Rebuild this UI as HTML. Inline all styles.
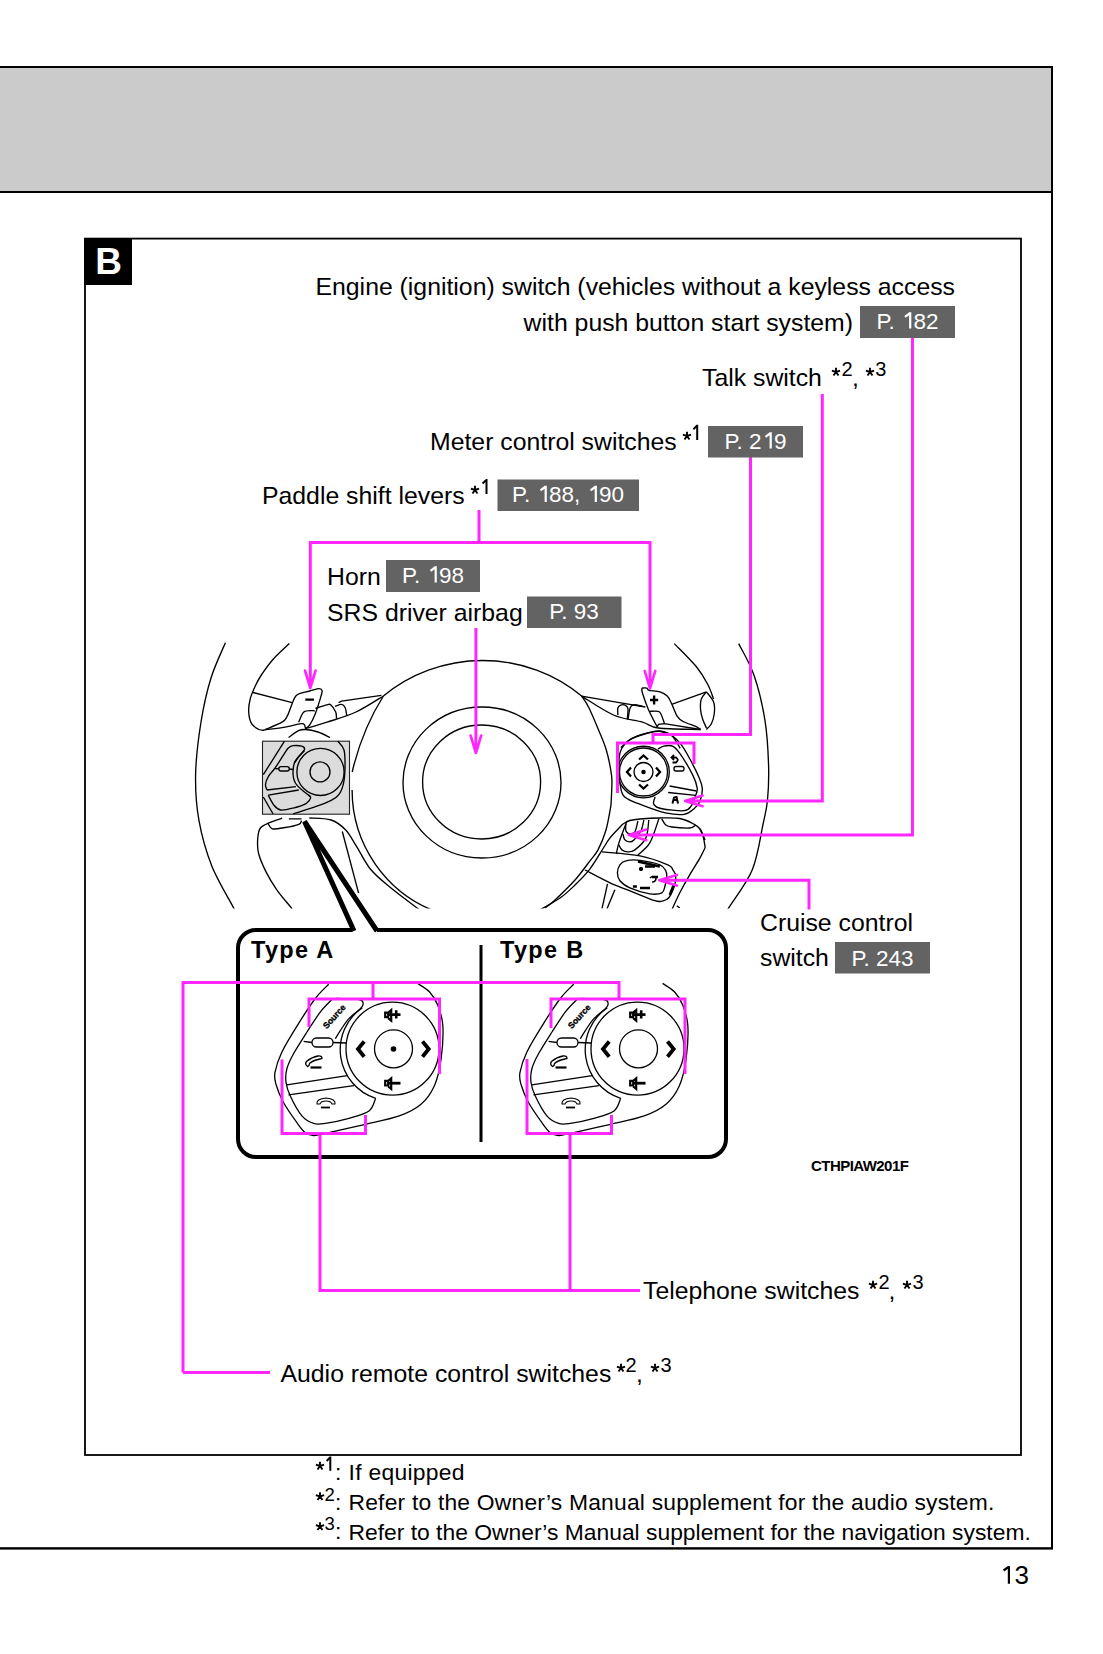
<!DOCTYPE html>
<html><head><meta charset="utf-8">
<style>
html,body{margin:0;padding:0;background:#fff;width:1103px;height:1654px;overflow:hidden}
svg{display:block}
text{font-family:"Liberation Sans",sans-serif}
.t{font-size:24.8px;fill:#000}
.bt{font-size:22.5px;fill:#fff}
.h1{fill-opacity:0}
.fn{font-size:22.85px;fill:#000}
.sp{font-size:20px}
.sf{font-size:18.5px}
</style></head>
<body>
<svg width="1103" height="1654" viewBox="0 0 1103 1654">
<defs>
<path id="ast" d="M0,0L0,-4.3M0,0L4.1,-1.3M0,0L2.5,3.5M0,0L-2.5,3.5M0,0L-4.1,-1.3" stroke="#000" stroke-width="1.9" fill="none"/>
<clipPath id="wclip"><rect x="0" y="600" width="1103" height="308.5"/></clipPath>
</defs>
<!-- header band -->
<rect x="0" y="68" width="1051" height="123" fill="#cbcbcb"/>
<rect x="0" y="66" width="1053" height="2" fill="#000"/>
<rect x="0" y="191" width="1053" height="2" fill="#000"/>
<rect x="1051" y="66" width="2" height="1483" fill="#000"/>
<rect x="0" y="1547.2" width="1053" height="2.4" fill="#000"/>
<!-- inner box -->
<rect x="85" y="238.6" width="936" height="1216.4" fill="none" stroke="#000" stroke-width="1.8"/>
<rect x="84" y="238" width="48" height="47" fill="#000"/>
<text x="108.5" y="274" font-size="37" font-weight="bold" fill="#fff" text-anchor="middle">B</text>


<!--WHEEL-->
<g id="wheel" clip-path="url(#wclip)" stroke="#000" stroke-width="1.35" fill="none">
<path d="M225.4,642.7C223.0,648.6 215.1,664.8 211.0,678.0C206.9,691.2 203.6,705.8 201.0,722.0C198.4,738.2 195.9,758.5 195.6,775.0C195.3,791.5 196.3,805.5 199.0,820.7C201.7,835.9 206.1,851.5 211.8,866.0C217.6,880.5 229.5,899.9 233.5,907.7C237.5,915.5 235.6,912.1 236.0,913.0"/>
<path d="M738.7,643.6C741.2,648.9 749.6,662.4 754.0,675.3C758.4,688.1 762.6,705.6 765.0,720.7C767.4,735.8 768.2,752.8 768.6,766.0C769.0,779.2 768.4,790.3 767.5,800.0C766.6,809.7 765.5,812.8 763.0,824.4C760.5,836.0 758.0,855.8 752.3,869.7C746.6,883.6 733.1,900.6 728.7,907.8C724.3,915.0 726.5,912.1 726.0,913.0"/>
<path d="M289.4,643.6C286.7,646.2 278.0,653.9 273.4,659.0C268.8,664.1 264.9,669.8 262.0,674.0C259.1,678.2 258.0,680.3 256.0,684.5C254.0,688.7 251.4,694.4 250.2,699.0C249.0,703.6 248.5,707.9 248.7,712.0C248.9,716.1 249.9,720.8 251.6,723.7C253.3,726.6 256.7,728.4 258.9,729.5C261.1,730.6 263.7,730.1 264.7,730.2"/>
<path d="M253.0,692.5L292.2,702.6"/>
<path d="M264.7,729.8C267.6,728.5 278.3,724.4 282.0,722.2C285.7,720.0 285.4,719.5 287.1,716.4C288.8,713.3 290.8,706.8 292.2,703.4C293.6,700.0 294.3,697.7 295.8,696.0C297.3,694.3 298.7,694.0 301.0,693.2C303.3,692.4 306.7,691.8 309.6,691.0C312.5,690.2 316.2,688.7 318.3,688.6C320.4,688.5 321.5,689.2 322.0,690.3C322.5,691.4 322.3,691.5 321.2,695.4C320.1,699.3 317.3,708.5 315.4,713.5C313.5,718.5 311.3,722.6 309.6,725.1C307.9,727.6 306.0,728.1 305.3,728.7"/>
<path d="M264.7,729.8C267.8,729.4 277.4,728.3 283.5,727.3C289.6,726.3 297.5,724.1 301.0,723.7C304.5,723.3 303.8,724.4 304.5,725.1C305.2,725.8 305.2,727.5 305.3,728.0"/>
<path d="M298.7,722.2C299.6,720.5 301.5,713.9 303.8,712.0C306.1,710.1 310.7,710.8 312.5,710.6C314.3,710.4 314.3,710.9 314.7,711.0"/>
<path d="M305.3,699.7L314.0,699.7" stroke-width="2.2"/>
<path d="M305.3,728.7C308.9,727.6 318.6,725.0 327.0,722.2C335.4,719.4 346.6,716.4 356.0,712.0C365.4,707.6 378.8,698.7 383.4,696.0"/>
<path d="M338.6,702.6L341.5,701.2L381.4,695.4"/>
<path d="M315.4,708.4C317.3,707.8 324.4,705.4 327.0,704.8C329.6,704.2 329.2,703.6 330.7,704.8C332.1,706.0 334.7,709.7 335.7,712.0C336.7,714.3 336.4,717.5 336.5,718.6"/>
<path d="M335.0,706.3C336.1,706.0 339.8,704.2 341.5,704.4C343.2,704.6 344.3,705.9 345.2,707.7C346.1,709.5 346.4,713.8 346.6,715.0"/>
<path d="M383.4,696Q362,730 352.2,772"/><path d="M352.1,790A130,130 0 0 0 437,912"/>
<path d="M288.6,737.5C290.2,736.4 295.2,732.2 298.0,730.9C300.8,729.6 302.0,729.3 305.3,729.5C308.6,729.7 313.9,730.7 318.0,732.0C322.1,733.3 328.0,736.6 330.0,737.5"/>
<path d="M282.2,818.2C280.1,819.0 273.1,821.1 269.5,822.7C265.9,824.3 262.4,825.3 260.4,828.0C258.4,830.7 258.0,834.8 257.7,839.0C257.4,843.2 257.2,848.1 258.6,853.5C260.0,858.9 262.9,865.6 265.9,871.6C268.9,877.6 272.6,883.8 276.8,889.8C281.0,895.8 288.6,904.4 291.3,907.9C294.0,911.4 292.7,910.5 293.0,911.0"/>
<path d="M268.0,823.4C268.8,824.3 269.7,828.1 272.5,828.8C275.3,829.5 280.6,828.2 285.0,827.5C289.4,826.8 296.1,825.4 298.8,824.3C301.6,823.2 301.1,821.3 301.5,820.7"/>
<path d="M288.8,818.8L301.5,818.8"/>
<path d="M309.4,818.0C313.0,818.3 325.1,818.0 331.2,820.0C337.2,822.0 341.5,825.6 345.7,830.0C349.9,834.4 352.3,839.7 356.5,846.3C360.7,852.9 365.2,862.8 371.0,869.8C376.8,876.8 383.1,881.5 391.0,888.0C398.9,894.5 413.2,905.0 418.2,908.8C423.2,912.6 420.5,910.6 421.0,911.0"/>
<path d="M342.3,831.5L358.6,893.2"/>
<ellipse cx="482" cy="782.5" rx="79" ry="75.5"/>
<ellipse cx="481.6" cy="782" rx="59" ry="57"/>
<path d="M383.4,696A156,156 0 0 1 581.6,696"/>
<path d="M581.6,696.1C582.8,698.0 586.0,701.9 588.9,707.7C591.8,713.5 596.1,724.0 599.0,731.0C601.9,738.0 604.2,742.7 606.3,750.0C608.4,757.3 610.6,768.3 611.5,775.0C612.4,781.7 611.8,785.0 611.7,790.0C611.6,795.0 611.1,802.5 611.0,805.0"/>
<path d="M581.6,696.1C586.9,699.2 603.4,710.6 613.5,715.0C623.6,719.4 635.0,720.0 642.5,722.2C650.0,724.4 648.8,726.8 658.5,728.0C668.2,729.2 693.5,729.2 700.5,729.5"/>
<path d="M581.6,696.1L623.7,703.4L645.4,707.0"/>
<path d="M641.8,688.1C642.6,688.1 645.7,687.7 646.9,688.1C648.1,688.5 646.8,689.7 649.0,690.3C651.2,690.9 657.0,690.8 660.0,691.8C663.0,692.8 665.3,694.2 667.2,696.1C669.1,698.0 669.8,700.0 671.5,703.4C673.2,706.8 675.4,713.4 677.3,716.4C679.2,719.4 680.0,719.8 683.1,721.5C686.2,723.2 693.3,725.3 696.2,726.6C699.1,727.9 699.8,729.0 700.5,729.5"/>
<path d="M641.8,688.1C641.9,689.0 641.4,689.7 642.5,693.2C643.6,696.7 645.9,703.6 648.3,709.2C650.7,714.8 655.5,723.7 657.0,726.6"/>
<path d="M649.8,711.3C651.1,711.3 656.0,710.9 657.8,711.3C659.6,711.7 659.6,711.5 660.7,713.5C661.8,715.5 663.7,721.4 664.3,723.0"/>
<path d="M657.0,727.3L658.5,724.4L664.3,723.7L700.5,729.5"/>
<path d="M672.3,704.1L706.4,691.8"/>
<path d="M706.4,691.8C707.6,693.5 712.3,698.4 713.6,702.0C714.9,705.6 714.7,709.9 714.3,713.5C713.9,717.1 712.7,721.0 711.4,723.7C710.1,726.4 707.2,728.5 706.4,729.5"/>
<path d="M706.4,691.8C705.5,693.0 702.3,696.1 701.3,699.0C700.3,701.9 700.3,705.8 700.5,709.2C700.7,712.6 701.7,716.2 702.7,719.3C703.7,722.4 705.8,726.5 706.4,728.0"/>
<path d="M674.3,643.6C677.9,647.4 690.4,659.5 696.0,666.3C701.6,673.1 704.9,679.0 707.8,684.5C710.7,690.0 712.6,696.6 713.6,699.0"/>
<path d="M617.9,715.0C617.9,713.8 617.3,709.4 617.9,707.7C618.5,706.0 620.2,705.2 621.5,704.8C622.8,704.4 624.7,704.8 625.8,705.5C626.9,706.2 627.8,706.7 628.0,709.0C628.2,711.3 627.4,717.6 627.3,719.3"/>
<path d="M628.0,719.3C628.4,717.4 629.2,710.1 630.2,707.7C631.2,705.3 631.8,705.0 633.8,704.8C635.8,704.6 641.0,706.0 642.5,706.3"/>
<path d="M650.0,700.0L658.2,700.0" stroke-width="2.4"/>
<path d="M654.1,695.5L654.1,704.5" stroke-width="2.4"/>
<path d="M620.8,747.6C622.7,746.0 627.6,740.7 632.4,738.2C637.2,735.7 645.2,733.6 649.8,732.4C654.4,731.2 656.4,730.5 660.0,731.0C663.6,731.5 668.1,732.4 671.5,735.3C674.9,738.2 678.8,746.1 680.2,748.3"/>
<path d="M620.3,751.9C622.0,747.3 624.4,743.4 629.0,740.3C633.6,737.1 642.6,734.5 647.9,733.0C653.2,731.5 656.9,731.1 661.0,731.6C665.1,732.1 669.1,733.8 672.5,736.0C675.9,738.2 678.3,740.8 681.2,744.7C684.1,748.6 687.1,753.9 690.0,759.2C692.9,764.5 696.6,771.8 698.6,776.6C700.6,781.4 702.1,784.1 702.3,788.2C702.5,792.3 701.3,797.8 700.0,801.2C698.7,804.6 696.9,806.3 694.3,808.5C691.6,810.7 688.9,813.6 684.1,814.3C679.3,815.0 672.1,814.2 665.3,812.8C658.5,811.3 650.3,808.2 643.5,805.6C636.7,803.0 628.6,800.3 624.7,796.9C620.8,793.5 621.3,790.1 620.3,785.3C619.3,780.5 618.9,773.5 618.9,767.9C618.9,762.3 618.6,756.5 620.3,751.9Z"/>
<path d="M658.0,749.0C659.0,748.5 661.4,746.6 663.8,746.1C666.2,745.6 669.8,744.9 672.5,746.1C675.2,747.3 676.4,748.6 679.8,753.4C683.2,758.2 689.9,769.3 692.8,775.1C695.7,780.9 696.7,784.8 697.2,788.2C697.7,791.6 696.0,794.2 695.7,795.4"/>
<path d="M669.6,786.0L696.5,791.0"/>
<path d="M668.2,792.5L695.7,795.4"/>
<path d="M655.1,796.9C654.9,798.1 652.7,802.2 653.7,804.1C654.7,806.0 655.9,807.4 661.0,808.5C666.1,809.6 679.0,811.2 684.1,810.7C689.2,810.2 689.5,808.2 691.4,805.6C693.3,803.0 695.0,797.1 695.7,795.4"/>
<circle cx="643.5" cy="772" r="24"/><circle cx="643.5" cy="772" r="25.8"/><circle cx="643.5" cy="772" r="9.5"/><circle cx="643.5" cy="772" r="1.6" fill="#000"/>
<path d="M639,759.5L643.5,755.5L648,759.5M639,784.5L643.5,788.5L648,784.5M631,767.5L627,772L631,776.5M656,767.5L660,772L656,776.5" stroke-width="2.3"/>
<path d="M672,757.5L676,757.5Q679.5,759.5 676,762.5L672.5,762.5M674,755L671.5,757.5L674,760" stroke-width="1.8"/>
<rect x="674" y="766.5" width="10" height="4.5" rx="2"/>
<path d="M672.5,803.5L674,797.5L676.5,797L678,803.5M673,800h4" stroke-width="2"/>
<path d="M611.0,805.0C610.2,809.2 608.2,822.5 606.0,830.0C603.8,837.5 600.7,844.8 598.0,849.9C595.3,855.0 593.8,855.8 590.0,860.8C586.2,865.8 580.8,873.5 575.0,880.0C569.2,886.5 560.0,895.3 555.0,900.0C550.0,904.7 546.7,906.7 545.0,908.0"/>
<path d="M622.9,824.0C620.8,826.3 613.6,833.2 610.0,837.9C606.4,842.5 604.3,846.8 601.0,851.9C597.7,857.0 594.3,863.3 590.0,868.8C585.7,874.3 580.0,880.1 575.0,885.0C570.0,889.9 566.5,893.5 560.0,898.0C553.5,902.5 540.0,909.7 536.0,912.0"/>
<path d="M622.9,824.0C624.1,823.4 627.1,821.3 629.9,820.5C632.7,819.7 634.9,819.4 639.9,819.0C644.9,818.6 653.1,818.1 659.8,818.0C666.4,817.9 674.1,817.5 679.8,818.5C685.4,819.5 690.3,822.2 693.7,824.0C697.1,825.8 698.1,826.3 700.0,829.0C701.9,831.7 704.2,838.2 705.0,840.0"/>
<path d="M661.8,819.0C662.5,820.0 664.1,823.7 665.8,825.0C667.5,826.3 667.8,826.5 671.8,827.0C675.8,827.5 685.7,828.3 689.7,828.0C693.7,827.7 694.7,825.5 695.7,825.0"/>
<path d="M658.8,819.0C657.3,823.0 653.3,836.9 649.8,842.9C646.3,848.9 639.9,852.9 637.9,854.9"/>
<path d="M627.0,821.0C625.6,824.6 620.7,837.4 618.9,842.9C617.1,848.4 616.8,852.1 616.4,853.9"/>
<path d="M625.9,824.0C625.9,825.2 625.2,829.4 625.9,831.0C626.6,832.6 628.4,833.8 629.9,833.9C631.4,834.0 633.6,834.0 634.9,831.9C636.2,829.8 637.4,822.8 637.9,821.0"/>
<path d="M622.9,833.9C623.2,834.9 623.7,838.6 624.9,839.9C626.1,841.2 628.4,841.9 629.9,841.9C631.4,841.9 632.1,841.7 633.9,839.9C635.7,838.1 639.2,834.3 640.9,831.0C642.6,827.7 643.4,821.8 643.9,820.0"/>
<path d="M618.9,844.9C619.4,845.7 620.4,848.7 621.9,849.9C623.4,851.1 625.7,851.9 627.9,851.9C630.1,851.9 631.9,852.2 634.9,849.9C637.9,847.6 643.6,842.9 645.9,837.9C648.2,832.9 648.3,823.0 648.8,820.0"/>
<path d="M602.0,851.9C608.3,852.6 628.9,853.8 639.9,855.9C650.9,858.0 662.3,862.5 667.8,864.8C673.3,867.1 671.5,868.1 672.8,869.8C674.1,871.5 675.3,874.0 675.8,874.8"/>
<path d="M585.0,870.0C589.2,872.1 601.7,879.0 610.0,882.8C618.3,886.6 627.4,889.8 634.9,892.8C642.4,895.8 650.3,899.3 654.8,900.7C659.3,902.1 659.5,901.7 661.8,901.2C664.1,900.7 666.6,900.4 668.8,897.7C671.0,895.0 673.6,888.6 674.8,884.8C676.0,881.0 675.6,876.5 675.8,874.8"/>
<path d="M619.9,864.8C621.3,862.8 622.6,861.5 625.9,860.8C629.2,860.0 634.2,859.6 639.9,860.3C645.5,861.0 655.5,863.0 659.8,864.8C664.1,866.5 664.6,868.8 665.8,870.8C667.0,872.8 666.9,874.3 666.8,876.8C666.7,879.3 665.8,883.3 665.0,886.0C664.2,888.7 664.3,891.5 661.8,892.8C659.3,894.1 655.1,894.6 649.8,893.8C644.5,893.0 634.9,890.0 629.9,887.8C624.9,885.6 622.0,883.3 619.9,880.8C617.8,878.3 617.4,875.5 617.4,872.8C617.4,870.1 618.5,866.8 619.9,864.8Z"/>
<path d="M669.8,895.0L673.8,884.8" stroke-width="2.6"/>
<path d="M637.9,861.5L659.8,866.5" stroke-width="2.6"/>
<path d="M645,866.5h10M641,867v4M639,869h4M632.9,886.5h4M640,888h10M652,877h6" stroke-width="2.6"/>
<path d="M650,878q3,-3 6,0q0,4 -4,4" stroke-width="1.6"/>
<path d="M602.0,908.7L607.5,883.8"/>
<path d="M607.0,908.7L614.9,889.8"/>
<path d="M705.0,848.0C704.2,849.6 702.5,853.4 700.0,857.9C697.5,862.4 693.1,869.0 689.7,874.8C686.3,880.6 682.8,886.9 679.8,892.8C676.8,898.7 673.1,907.1 671.8,910.0"/>
<path d="M676.8,905.7L679.8,908.0"/>
<path d="M700.0,829.0C700.5,830.3 702.5,834.1 703.3,837.0C704.1,839.9 704.7,844.4 705.0,846.2C705.3,848.0 705.0,847.7 705.0,848.0"/>
<rect x="262.5" y="741.2" width="87" height="73" fill="#dcdcdc" stroke="#222" stroke-width="1.1"/>
<path d="M284.5,741.2L263.3,774.7"/>
<path d="M263.3,797.0L273.1,814.0"/>
<path d="M337.8,741.2C338.8,742.7 342.8,745.5 344.0,750.0C345.2,754.5 345.1,762.6 345.0,768.1C344.9,773.6 344.5,778.9 343.5,783.3C342.5,787.7 340.9,791.9 338.8,794.7C336.8,797.6 334.9,798.5 331.2,800.4C327.5,802.3 323.2,804.0 316.9,806.2C310.5,808.4 297.1,812.5 293.1,813.8"/>
<path d="M266.9,790.0C266.7,789.0 265.3,786.5 265.5,784.3C265.7,782.1 266.7,779.3 268.3,776.6C269.9,773.9 272.4,771.7 275.0,768.1C277.6,764.5 281.4,758.1 283.6,754.8C285.8,751.5 286.7,749.6 288.3,748.1C289.9,746.6 290.9,746.0 293.1,745.7C295.3,745.4 299.7,745.6 301.6,746.2C303.5,746.8 305.0,747.8 304.5,749.5C304.0,751.2 300.4,754.6 298.8,756.7C297.2,758.9 295.6,761.5 295.0,762.4"/>
<path d="M304.5,750.5C302.9,752.3 296.9,757.4 295.0,761.4C293.1,765.4 292.8,770.7 293.1,774.7C293.4,778.7 294.0,781.6 296.9,785.2C299.8,788.9 308.0,794.7 310.2,796.6"/>
<circle cx="320.5" cy="771.9" r="23.6"/><circle cx="320" cy="771.9" r="10"/>
<rect x="278.8" y="766.6" width="10.5" height="4.4" rx="2.2"/>
<path d="M275.0,768.5L278.8,768.8"/>
<path d="M289.3,769.0L293.1,769.5"/>
<path d="M266.9,790.0L295.9,786.6"/>
<path d="M268.3,795.2L298.8,790.0"/>
<path d="M268.3,795.2C269.2,796.9 271.9,802.7 274.0,805.2C276.1,807.7 277.5,809.5 280.7,810.0C283.9,810.5 288.8,809.2 293.1,808.1C297.4,807.0 303.5,805.0 306.4,803.3C309.3,801.5 310.4,799.0 310.7,797.6C311.0,796.2 308.7,795.2 308.3,794.7"/>
</g>
<!--/WHEEL-->
<!--PADS-->
<g id="padA" stroke="#000" stroke-width="1.3" fill="none">
<path d="M328.7,984.2C326.5,986.6 320.3,991.9 315.3,998.5C310.3,1005.1 304.1,1014.6 298.5,1023.6C292.9,1032.5 285.7,1044.1 281.8,1052.2C277.9,1060.3 276.0,1067.0 275.0,1072.3C274.0,1077.6 274.5,1079.0 275.9,1084.0C277.3,1089.0 280.0,1096.1 283.5,1102.5C287.0,1108.9 293.3,1117.6 296.9,1122.6C300.5,1127.6 302.4,1130.5 305.3,1132.7C308.2,1134.9 309.5,1135.7 314.0,1135.5C318.5,1135.3 323.5,1133.7 332.1,1131.8C340.7,1129.9 354.4,1126.9 365.6,1124.3C376.8,1121.7 390.0,1119.2 399.2,1115.9C408.4,1112.6 415.1,1109.2 421.0,1104.2C426.9,1099.2 431.0,1093.2 434.4,1085.7C437.8,1078.2 439.7,1069.0 441.1,1058.9C442.5,1048.8 443.4,1034.2 442.8,1025.3C442.2,1016.3 440.0,1010.8 437.8,1005.2C435.6,999.6 432.8,995.4 429.4,991.8C426.0,988.2 419.6,984.8 417.6,983.4"/>
<path d="M332.1,999.3C330.2,1001.4 324.6,1006.4 320.4,1011.9C316.2,1017.4 311.5,1025.0 307.0,1032.0C302.5,1039.0 296.9,1047.6 293.5,1053.8C290.1,1060.0 288.1,1064.2 286.8,1069.0C285.6,1073.8 285.4,1077.8 286.0,1082.3C286.6,1086.8 287.6,1090.2 290.2,1095.8C292.8,1101.4 298.0,1111.3 301.9,1115.9C305.8,1120.5 309.7,1122.2 313.6,1123.4C317.5,1124.7 319.5,1124.2 325.4,1123.4C331.3,1122.6 341.6,1120.5 348.9,1118.4C356.2,1116.3 364.5,1114.2 369.0,1110.9C373.5,1107.6 374.6,1100.4 375.7,1098.3"/>
<path d="M362.3,1007.7A51,51 0 0 0 375.7,1098.3"/>
<path d="M336.0,998.5C339.8,998.7 354.4,998.7 358.9,999.5C363.4,1000.3 362.8,1001.9 363.1,1003.4C363.4,1004.9 363.0,1006.0 360.6,1008.5C358.2,1011.0 352.2,1015.0 348.9,1018.6C345.5,1022.2 342.8,1027.0 340.5,1030.3C338.2,1033.6 336.2,1037.3 335.4,1038.7"/>
<rect x="312" y="1038" width="21" height="9" rx="4.5"/>
<path d="M303.6,1041.3L312,1042.5M333,1042.5L346,1043"/>
<path d="M286.8,1084.9L347.2,1075.6M288.5,1094.9L353.9,1085.7"/>
<circle cx="392.5" cy="1048.7" r="46.5"/>
<circle cx="393.5" cy="1048.8" r="19"/>
<path d="M364.2,1041.5L358,1049L364.2,1056.8M422.5,1041.5L428.7,1049L422.5,1056.8" stroke-width="3.8"/>
<path d="M385.2,1012.6h3v4.6h-3zM388.2,1012.6l3,-2.5v10.6l-3,-2.5" fill="none" stroke-width="2.2"/>
<path d="M389,1014.6h11.5M396.2,1010.3v8.2" stroke-width="2.6"/>
<path d="M385.2,1080.9h3v4.6h-3zM388.2,1080.9l3,-2.5v10.6l-3,-2.5" fill="none" stroke-width="2.2"/>
<path d="M389,1083.2h11.5" stroke-width="2.8"/>
<path d="M307.5,1066.5Q304.5,1064 306.5,1061.5Q312,1057 318,1056Q322,1055.5 322,1058.5L318,1059.5Q312,1061 309.5,1063.5Q309.5,1066 307.5,1066.5Z" stroke-width="1.3"/>
<path d="M310.5,1067.5h11" stroke-width="2.2"/>
<path d="M317,1104Q316,1099 326,1098Q336,1099 335,1104L332,1104Q331,1101 326,1101Q321,1101 320,1104Z" stroke-width="1.1"/>
<path d="M321,1107.5h9" stroke-width="1.8"/>
<text x="0" y="0" transform="translate(334.7,1017) rotate(-48)" font-size="8.6" font-weight="bold" fill="#000" stroke="#000" stroke-width="0.35" text-anchor="middle" dominant-baseline="middle">Source</text>
</g>
<circle cx="393.5" cy="1049" r="2.8" fill="#000"/>
<use href="#padA" x="245"/>
<path d="M377,930H708A18,18 0 0 1 726,948V1139A18,18 0 0 1 708,1157H256A18,18 0 0 1 238,1139V948A18,18 0 0 1 256,930H352" fill="none" stroke="#000" stroke-width="4"/><path d="M354,931L304.5,821.5L377,931" fill="none" stroke="#000" stroke-width="5" stroke-linejoin="miter" stroke-miterlimit="3"/>
<rect x="479.5" y="945" width="3" height="197" fill="#000"/>
<text x="251" y="958" font-size="23.5" font-weight="bold" fill="#000" letter-spacing="1.3">Type A</text>
<text x="500" y="958" font-size="23.5" font-weight="bold" fill="#000" letter-spacing="1.3">Type B</text>
<!--/PADS-->
<!--MAG-->
<g id="magenta" stroke="#ff26ff" stroke-width="3" fill="none" stroke-linejoin="miter">
<path d="M912.5,337V834.9H637"/>
<path d="M628.8,834.9L646.3,840.2M628.8,834.9L646.3,829.6" stroke-width="2.6" stroke-linecap="round"/>
<path d="M627.3,834.9L638.3,838.3L638.3,831.5Z" fill="#ff26ff" stroke="none"/>
<path d="M822.3,394V800.9H694"/>
<path d="M685.1,800.9L702.6,806.2M685.1,800.9L702.6,795.6" stroke-width="2.6" stroke-linecap="round"/>
<path d="M683.6,800.9L694.6,804.3L694.6,797.5Z" fill="#ff26ff" stroke="none"/>
<path d="M750.5,457V734.5H653V743"/>
<path d="M617.5,793V743H694V764"/>
<path d="M479,510V542.5"/>
<path d="M310.3,680V542.5H650V680"/>
<path d="M310.3,688.0L315.6,670.5M310.3,688.0L305.0,670.5" stroke-width="2.6" stroke-linecap="round"/>
<path d="M310.3,689.5L313.7,678.5L306.9,678.5Z" fill="#ff26ff" stroke="none"/>
<path d="M650.0,688.4L655.3,670.9M650.0,688.4L644.7,670.9" stroke-width="2.6" stroke-linecap="round"/>
<path d="M650.0,689.9L653.4,678.9L646.6,678.9Z" fill="#ff26ff" stroke="none"/>
<path d="M475.9,628V745"/>
<path d="M475.9,753.0L481.2,735.5M475.9,753.0L470.6,735.5" stroke-width="2.6" stroke-linecap="round"/>
<path d="M475.9,754.5L479.3,743.5L472.5,743.5Z" fill="#ff26ff" stroke="none"/>
<path d="M809,909.5V880.2H668"/>
<path d="M659.3,880.2L676.8,885.5M659.3,880.2L676.8,874.9" stroke-width="2.6" stroke-linecap="round"/>
<path d="M657.8,880.2L668.8,883.6L668.8,876.8Z" fill="#ff26ff" stroke="none"/>
<path d="M183,1372.5V982.5H619V999"/>
<path d="M183,1372.5H270"/>
<path d="M373,982.5V999"/>
<path d="M309,1027V999H439.5V1074"/>
<path d="M551,1028V999H685V1074"/>
<path d="M282,1059.5V1133.5H365.5V1115"/>
<path d="M527,1059V1133.5H611.5V1115"/>
<path d="M320,1133.5V1290.5H640"/>
<path d="M570,1133.5V1290.5"/>
</g>
<!--/MAG-->
<g id="labels">
<text class="t" x="955" y="294.5" text-anchor="end">Engine (ignition) switch (vehicles without a keyless access</text>
<text class="t" x="853" y="330.5" text-anchor="end">with push button start system)</text>
<rect x="860" y="306" width="95" height="32" fill="#636363"/>
<text class="bt" x="907.5" y="328.5" text-anchor="middle">P. <tspan class="h1">1</tspan>82</text>

<text class="t" x="702" y="386">Talk switch</text>

<text class="t" x="430" y="450">Meter control switches</text>
<rect x="708" y="426" width="95" height="31.5" fill="#636363"/>
<text class="bt" x="755.5" y="448.5" text-anchor="middle">P. 2<tspan class="h1">1</tspan>9</text>

<text class="t" x="262" y="503.5">Paddle shift levers</text>
<rect x="497.5" y="479.5" width="141.5" height="31.5" fill="#636363"/>
<text class="bt" x="568" y="502" text-anchor="middle">P. <tspan class="h1">1</tspan>88, <tspan class="h1">1</tspan>90</text>

<text class="t" x="327" y="584.5">Horn</text>
<rect x="386" y="560" width="94" height="32" fill="#636363"/>
<text class="bt" x="433" y="582.5" text-anchor="middle">P. <tspan class="h1">1</tspan>98</text>

<text class="t" x="327" y="620.5">SRS driver airbag</text>
<rect x="527" y="596.5" width="94.5" height="31.5" fill="#636363"/>
<text class="bt" x="574" y="619" text-anchor="middle">P. 93</text>

<text class="t" x="760" y="931">Cruise control</text>
<text class="t" x="760" y="966">switch</text>
<rect x="835" y="942" width="95" height="31.5" fill="#636363"/>
<text class="bt" x="882.5" y="965.5" text-anchor="middle">P. 243</text>

<text class="t" x="643" y="1299">Telephone switches</text>
<text class="t" x="280.5" y="1382">Audio remote control switches</text>

<text x="811" y="1171" font-size="15" font-weight="bold" letter-spacing="-0.55">CTHPIAW201F</text>
</g>


<g id="sups">
<use href="#ast" x="836" y="372"/><text class="sp" x="841.5" y="376">2</text><text class="t" x="852" y="386">,</text>
<use href="#ast" x="870" y="372"/><text class="sp" x="875.3" y="376">3</text>
<use href="#ast" x="687" y="436"/><path d="M697.2,424.8V440.0M693.4,429.3L697.2,425.4" stroke="#000" stroke-width="2.0" fill="none"/>
<use href="#ast" x="475" y="490"/><path d="M486.5,479.0V494.0M482.6,483.5L486.5,479.6" stroke="#000" stroke-width="2.0" fill="none"/>
<use href="#ast" x="873" y="1285"/><text class="sp" x="878.5" y="1288.6">2</text><text class="t" x="888.5" y="1298.6">,</text>
<use href="#ast" x="907" y="1285"/><text class="sp" x="912.5" y="1288.6">3</text>
<use href="#ast" x="621" y="1368"/><text class="sp" x="625.5" y="1371.8">2</text><text class="t" x="636" y="1381.8">,</text>
<use href="#ast" x="655" y="1368"/><text class="sp" x="660.5" y="1371.8">3</text>
<use href="#ast" x="320" y="1466"/><path d="M330.3,1456.5V1470.7M326.7,1461.0L330.3,1457.1" stroke="#000" stroke-width="2.0" fill="none"/><text class="fn" x="335" y="1479.5">:</text>
<use href="#ast" x="320" y="1496.5"/><text class="sf" x="324.5" y="1500.8">2</text><text class="fn" x="335" y="1509.5">:</text>
<use href="#ast" x="320" y="1526.5"/><text class="sf" x="324.5" y="1529.8">3</text><text class="fn" x="335" y="1539">:</text>
</g>
<g id="badge1"><path d="M910.2,312.3V328.5M905.0,316.9L910.2,313.0" stroke="#fff" stroke-width="2.2" fill="none"/><path d="M770.7,432.3V448.5M765.5,436.9L770.7,433.0" stroke="#fff" stroke-width="2.2" fill="none"/><path d="M545.7,485.8V502.0M540.5,490.4L545.7,486.5" stroke="#fff" stroke-width="2.2" fill="none"/><path d="M595.8,485.8V502.0M590.6,490.4L595.8,486.5" stroke="#fff" stroke-width="2.2" fill="none"/><path d="M435.7,566.3V582.5M430.5,570.9L435.7,567.0" stroke="#fff" stroke-width="2.2" fill="none"/></g>
<g id="footnotes">
<text class="fn" x="348.5" y="1480" letter-spacing="0.3">If equipped</text>
<text class="fn" x="348.5" y="1509.8" letter-spacing="0.2">Refer to the Owner’s Manual supplement for the audio system.</text>
<text class="fn" x="348.5" y="1539.8">Refer to the Owner’s Manual supplement for the navigation system.</text>
<text x="1029" y="1583.8" font-size="26" text-anchor="end">3</text><path d="M1008.9,1566.0V1583.8M1003.6,1570.5L1008.9,1566.6" stroke="#000" stroke-width="2.2" fill="none"/>
</g>
</svg>
</body></html>
